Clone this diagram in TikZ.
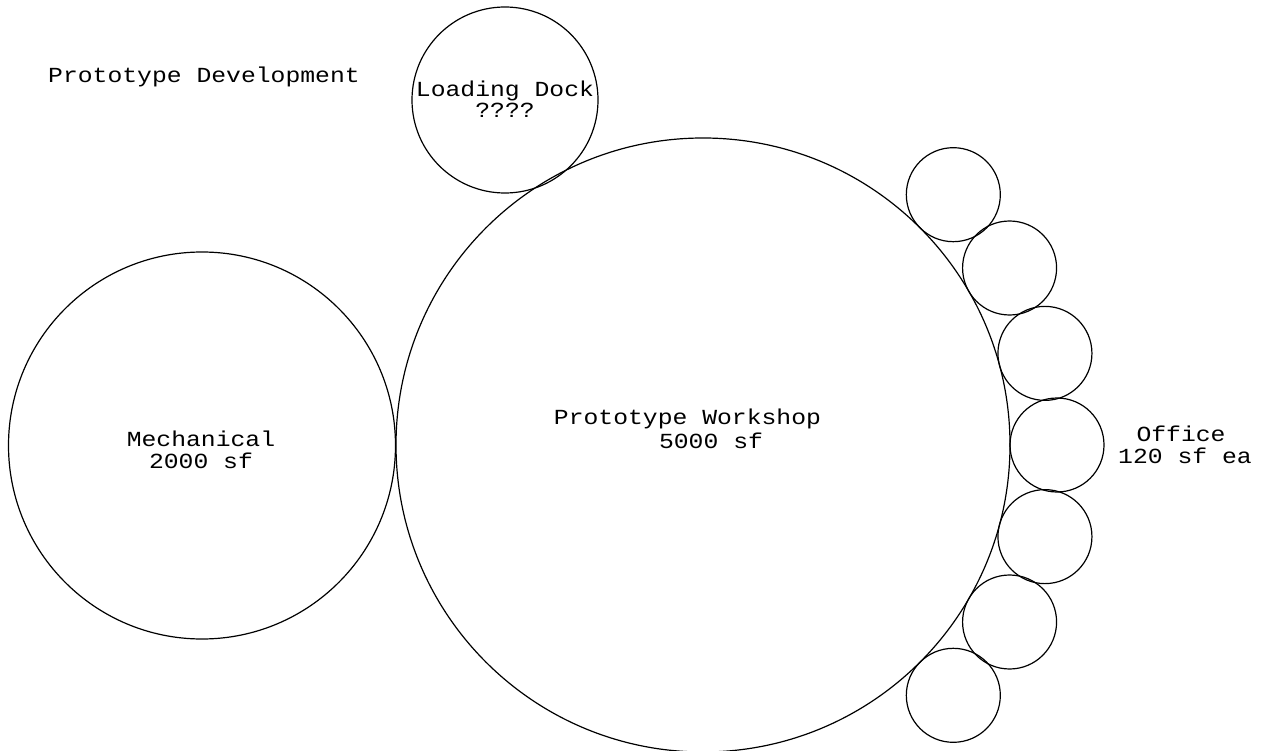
\documentclass[tikz,border=0pt]{standalone}
\usepackage{fontspec}
\newfontfamily\cadfont[FakeStretch=1.15]{Liberation Mono}
\tikzset{
  room/.style={circle, draw=black, line width=1.2pt, inner sep=0pt},
  lbl/.style={font=\cadfont\fontsize{21.5}{21.5}\selectfont, inner sep=0pt, anchor=base, text=black}
}
\begin{document}
\begin{tikzpicture}[x=1pt,y=-1pt]
\useasboundingbox (0,0) rectangle (1261,751);
% rooms
\node[room, minimum size=387pt] (mech) at (202,445.5) {};
\node[room, minimum size=614pt] (shop) at (703,445) {};
\node[room, minimum size=186pt] (dock) at (505,100) {};
\foreach \a [count=\i] in {45,30,15,0,-15,-30,-45}
  \node[room, minimum size=94pt] (off\i) at ({703+354*cos(\a)},{445-354*sin(\a)}) {};
% labels
\node[lbl] (title) at (204,83) {Prototype Development};
\node[lbl] (dockA) at (505,97) {Loading Dock};
\node[lbl] (dockB) at (505,118) {????};
\node[lbl] (shopA) at (687.5,424) {Prototype Workshop};
\node[lbl] (shopB) at (711,448) {5000 sf};
\node[lbl] (mechA) at (201,446) {Mechanical};
\node[lbl] (mechB) at (201,468) {2000 sf};
\node[lbl] (offA) at (1181,441) {Office};
\node[lbl] (offB) at (1185,463) {120 sf ea};
\end{tikzpicture}
\end{document}
